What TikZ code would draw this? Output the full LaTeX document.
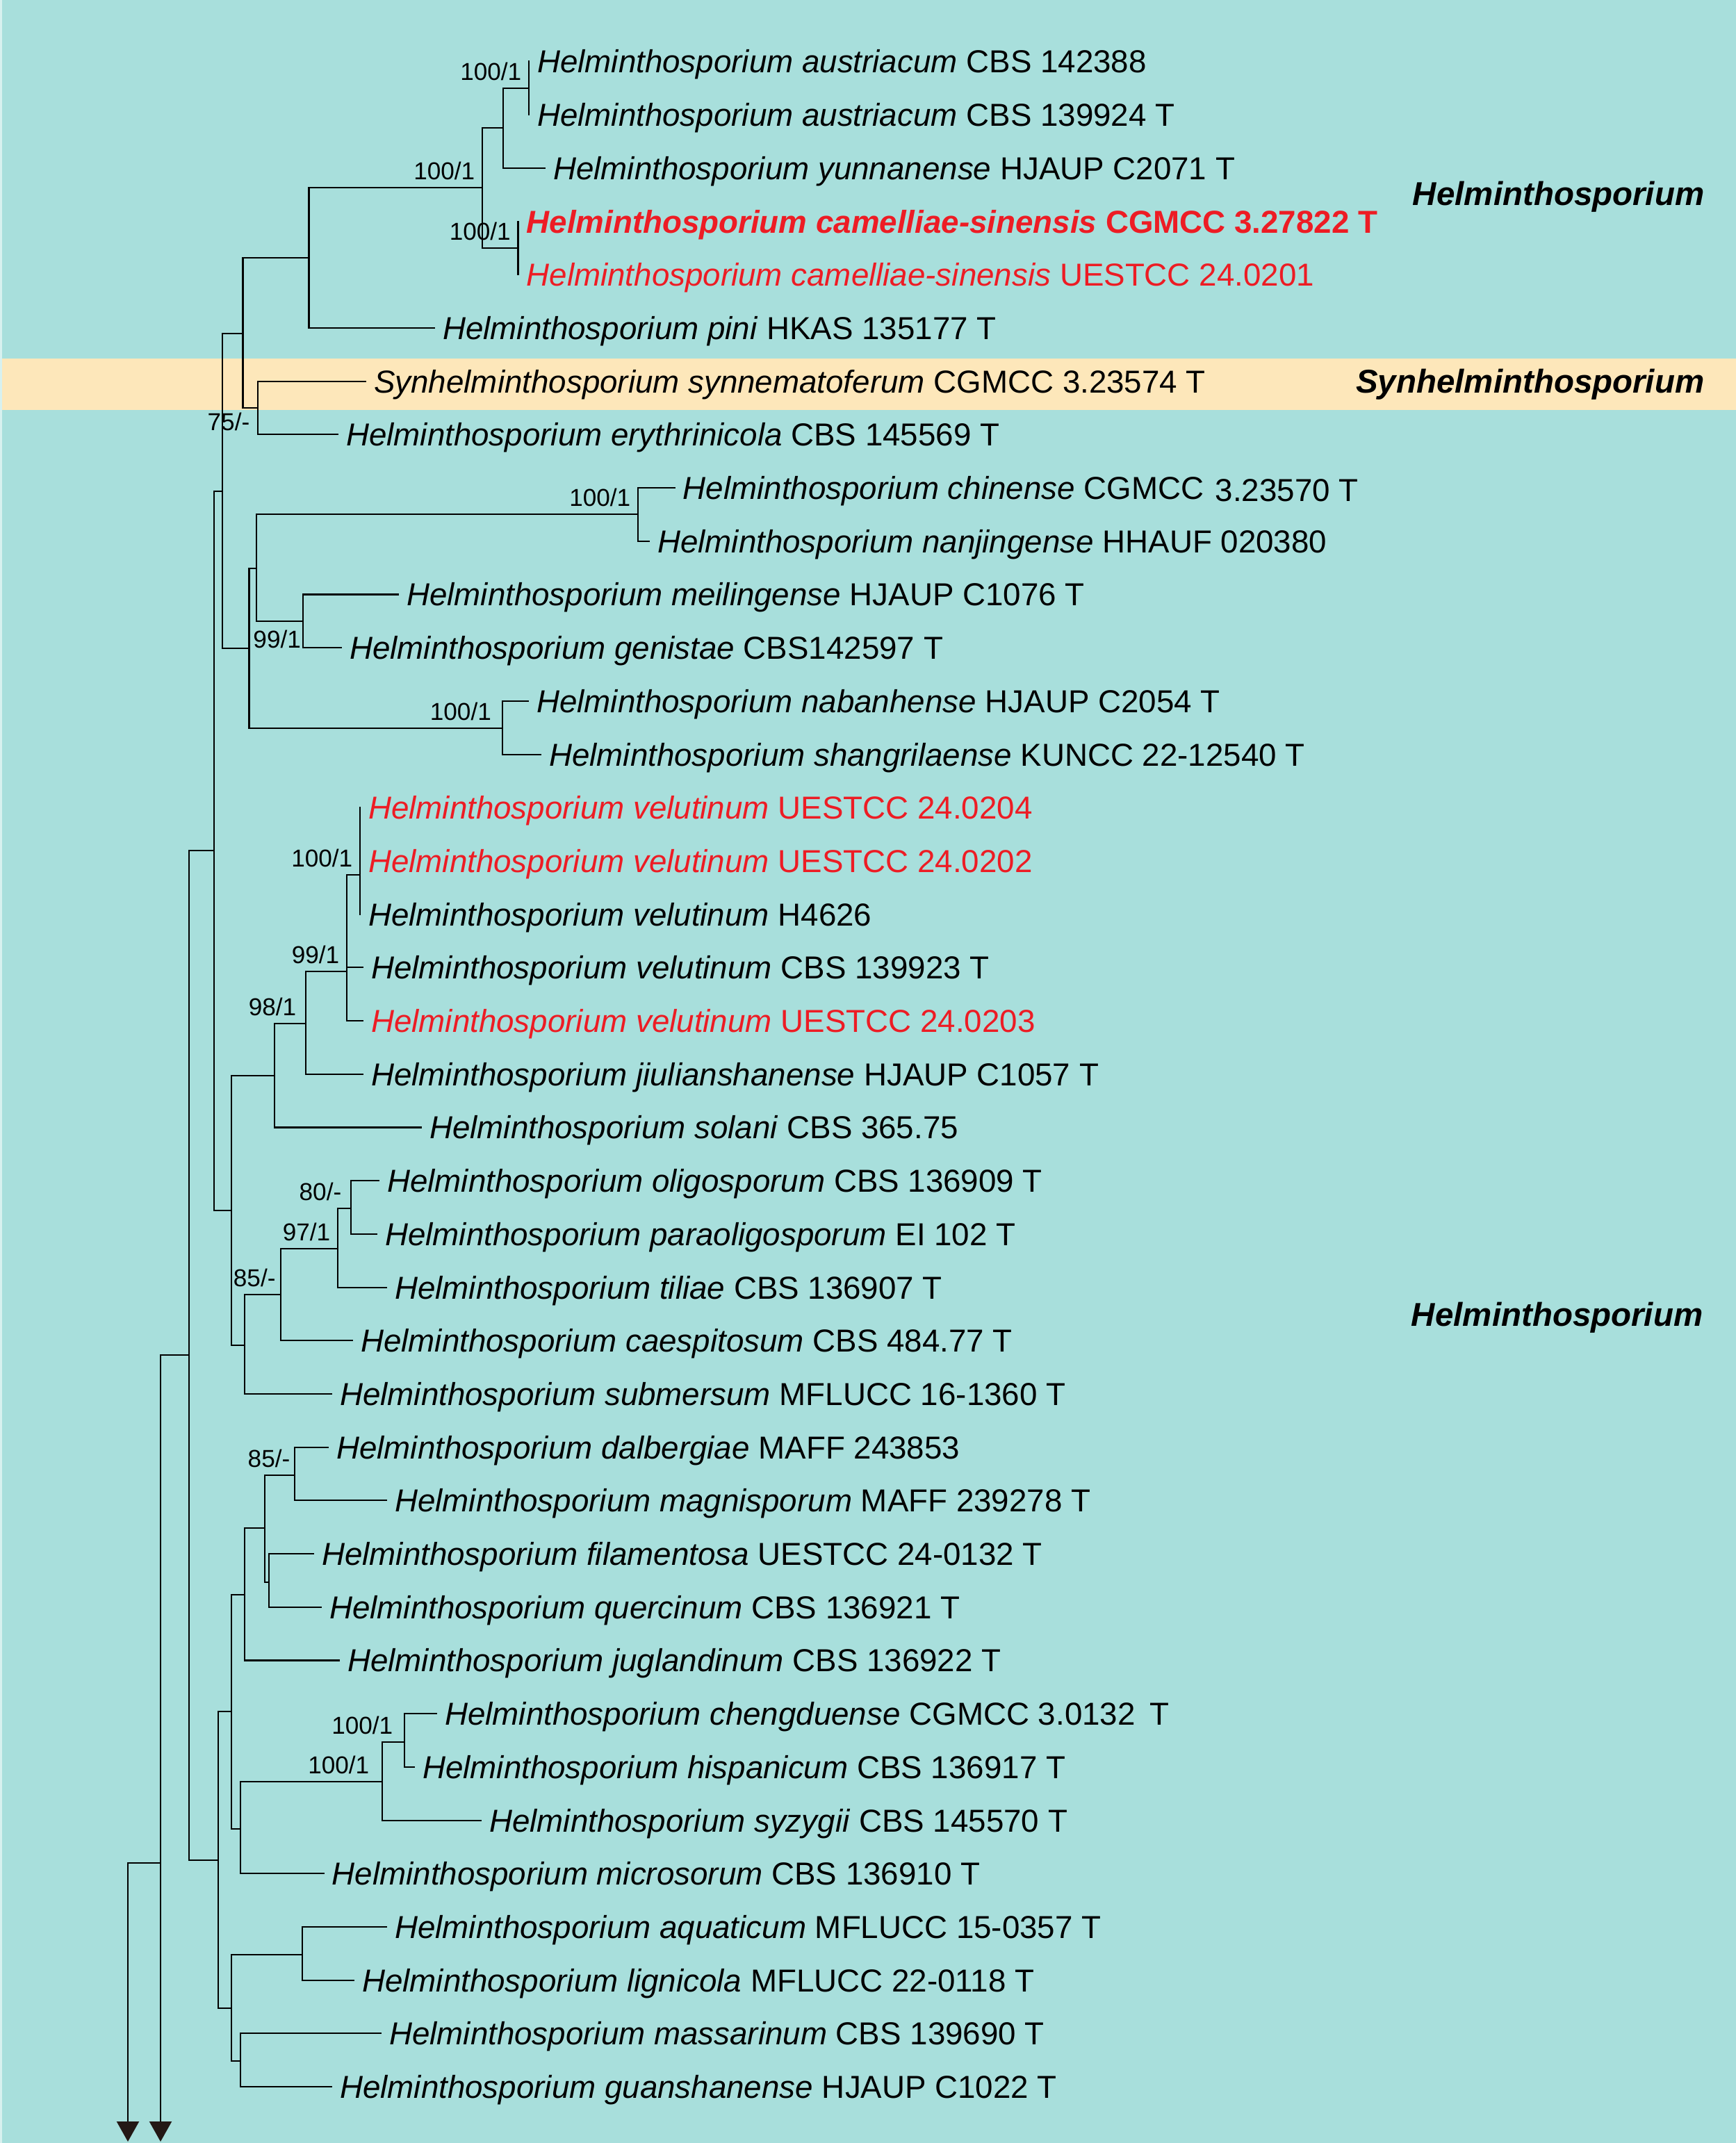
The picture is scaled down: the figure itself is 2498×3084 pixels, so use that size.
\documentclass[tikz,border=0pt]{standalone}
\usepackage{fontspec}
\setmainfont{Liberation Sans}
\usetikzlibrary{arrows.meta}
\definecolor{bgteal}{RGB}{168,223,220}
\definecolor{bandorange}{RGB}{253,231,186}
\definecolor{hred}{RGB}{237,28,36}
\definecolor{arrowdark}{RGB}{35,24,21}
\newcommand\rowy[1]{88.5+76.7*#1}
\begin{document}
\begin{tikzpicture}[x=0.01cm,y=-0.01cm,
  br/.style={line width=0.6pt, black, line cap=rect},
  tiplab/.style={anchor=base west, inner sep=0pt, xshift=0.115cm, yshift=-0.164cm, font=\fontsize{13}{15}\selectfont},
  redlab/.style={tiplab, text=hred},
  sup/.style={anchor=base east, inner sep=0pt, xshift=-0.10cm, yshift=0.12cm, font=\fontsize{10}{12}\selectfont},
  clade/.style={anchor=base east, inner sep=0pt, font=\fontsize{13.5}{16}\selectfont\bfseries\itshape},
  outarrow/.style={br, line cap=butt, -{Triangle[width=0.32cm,length=0.29cm,fill=arrowdark,color=arrowdark]}}
]
\fill[bgteal] (0,0) rectangle (2498,3084);
\useasboundingbox (0,0) rectangle (2498,3084);
\fill[bandorange] (0,516) rectangle (2498,590);
\fill[white!55!bgteal] (0,0) rectangle (3,3084);

% tips
\coordinate (t0) at (761,{\rowy{0}});
\coordinate (t1) at (761,{\rowy{1}});
\coordinate (t2) at (784,{\rowy{2}});
\coordinate (t3) at (745.5,{\rowy{3}});
\coordinate (t4) at (745.5,{\rowy{4}});
\coordinate (t5) at (625,{\rowy{5}});
\coordinate (t6) at (526,{\rowy{6}});
\coordinate (t7) at (486,{\rowy{7}});
\coordinate (t8) at (970.6,{\rowy{8}});
\coordinate (t9) at (934,{\rowy{9}});
\coordinate (t10) at (573,{\rowy{10}});
\coordinate (t11) at (491,{\rowy{11}});
\coordinate (t12) at (760,{\rowy{12}});
\coordinate (t13) at (778,{\rowy{13}});
\coordinate (t14) at (518,{\rowy{14}});
\coordinate (t15) at (518,{\rowy{15}});
\coordinate (t16) at (518,{\rowy{16}});
\coordinate (t17) at (522,{\rowy{17}});
\coordinate (t18) at (522,{\rowy{18}});
\coordinate (t19) at (522,{\rowy{19}});
\coordinate (t20) at (606,{\rowy{20}});
\coordinate (t21) at (545,{\rowy{21}});
\coordinate (t22) at (542,{\rowy{22}});
\coordinate (t23) at (556,{\rowy{23}});
\coordinate (t24) at (507,{\rowy{24}});
\coordinate (t25) at (477,{\rowy{25}});
\coordinate (t26) at (472,{\rowy{26}});
\coordinate (t27) at (556,{\rowy{27}});
\coordinate (t28) at (451,{\rowy{28}});
\coordinate (t29) at (462,{\rowy{29}});
\coordinate (t30) at (488,{\rowy{30}});
\coordinate (t31) at (628,{\rowy{31}});
\coordinate (t32) at (596,{\rowy{32}});
\coordinate (t33) at (692,{\rowy{33}});
\coordinate (t34) at (465.6,{\rowy{34}});
\coordinate (t35) at (556,{\rowy{35}});
\coordinate (t36) at (509,{\rowy{36}});
\coordinate (t37) at (548,{\rowy{37}});
\coordinate (t38) at (477,{\rowy{38}});

% internal nodes
\coordinate (N761) at (761,127);
\coordinate (N724) at (724,184);
\coordinate (N745) at (745.5,357);
\coordinate (N694) at (694,270);
\coordinate (N444) at (444.5,371);
\coordinate (N371) at (371,587);
\coordinate (N349) at (349.5,480);
\coordinate (N918) at (918,740);
\coordinate (N435) at (435.6,894);
\coordinate (N368) at (368.6,818);
\coordinate (N722) at (722.6,1048);
\coordinate (N358) at (358.5,933);
\coordinate (N320) at (320,707);
\coordinate (N518) at (518,1259);
\coordinate (N499) at (499,1398);
\coordinate (N440) at (440,1473);
\coordinate (N395) at (395.4,1548);
\coordinate (N505) at (505,1739);
\coordinate (N486) at (486,1797);
\coordinate (N403) at (403.7,1863);
\coordinate (N352a) at (352,1936);
\coordinate (N333a) at (333,1742);
\coordinate (N308) at (308,1224);
\coordinate (N424) at (424,2123);
\coordinate (N387) at (387,2277);
\coordinate (N381) at (381,2199);
\coordinate (N352b) at (352,2295);
\coordinate (N582) at (582,2507);
\coordinate (N550) at (550,2564);
\coordinate (N346a) at (346,2632);
\coordinate (N333b) at (333,2463);
\coordinate (N435b) at (435,2813);
\coordinate (N346b) at (346,2966);
\coordinate (N333c) at (333,2890);
\coordinate (N314) at (314,2677);
\coordinate (N272) at (272,1950);
\coordinate (N231) at (231,2681);
\coordinate (N184) at (184,2681);
\coordinate (E184) at (184,3082);
\coordinate (E231) at (231,3082);

% branches
\draw[br] (N761) |- (t0); \draw[br] (N761) |- (t1);
\draw[br] (N724) |- (N761); \draw[br] (N724) |- (t2);
\draw[br] (N745) |- (t3); \draw[br] (N745) |- (t4);
\draw[br] (N694) |- (N724); \draw[br] (N694) |- (N745);
\draw[br] (N444) |- (N694); \draw[br] (N444) |- (t5);
\draw[br] (N371) |- (t6); \draw[br] (N371) |- (t7);
\draw[br] (N349) |- (N444); \draw[br] (N349) |- (N371);
\draw[br] (N918) |- (t8); \draw[br] (N918) |- (t9);
\draw[br] (N435) |- (t10); \draw[br] (N435) |- (t11);
\draw[br] (N368) |- (N918); \draw[br] (N368) |- (N435);
\draw[br] (N722) |- (t12); \draw[br] (N722) |- (t13);
\draw[br] (N358) |- (N368); \draw[br] (N358) |- (N722);
\draw[br] (N320) |- (N349); \draw[br] (N320) |- (N358);
\draw[br] (N518) |- (t14); \draw[br] (N518) |- (t15); \draw[br] (N518) |- (t16);
\draw[br] (N499) |- (N518); \draw[br] (N499) |- (t17); \draw[br] (N499) |- (t18);
\draw[br] (N440) |- (N499); \draw[br] (N440) |- (t19);
\draw[br] (N395) |- (N440); \draw[br] (N395) |- (t20);
\draw[br] (N505) |- (t21); \draw[br] (N505) |- (t22);
\draw[br] (N486) |- (N505); \draw[br] (N486) |- (t23);
\draw[br] (N403) |- (N486); \draw[br] (N403) |- (t24);
\draw[br] (N352a) |- (N403); \draw[br] (N352a) |- (t25);
\draw[br] (N333a) |- (N395); \draw[br] (N333a) |- (N352a);
\draw[br] (N308) |- (N320); \draw[br] (N308) |- (N333a);
\draw[br] (N424) |- (t26); \draw[br] (N424) |- (t27);
\draw[br] (N387) |- (t28); \draw[br] (N387) |- (t29);
\draw[br] (N381) |- (N424); \draw[br] (N381) |- (N387);
\draw[br] (N352b) |- (N381); \draw[br] (N352b) |- (t30);
\draw[br] (N582) |- (t31); \draw[br] (N582) |- (t32);
\draw[br] (N550) |- (N582); \draw[br] (N550) |- (t33);
\draw[br] (N346a) |- (N550); \draw[br] (N346a) |- (t34);
\draw[br] (N333b) |- (N352b); \draw[br] (N333b) |- (N346a);
\draw[br] (N435b) |- (t35); \draw[br] (N435b) |- (t36);
\draw[br] (N346b) |- (t37); \draw[br] (N346b) |- (t38);
\draw[br] (N333c) |- (N435b); \draw[br] (N333c) |- (N346b);
\draw[br] (N314) |- (N333b); \draw[br] (N314) |- (N333c);
\draw[br] (N272) |- (N308); \draw[br] (N272) |- (N314);
\draw[br] (N231) |- (N272);
\draw[br] (N184) -- (N231);
\draw[outarrow] (N231) -- (E231);
\draw[outarrow] (N184) -- (E184);

% support values
\node[sup] (s1) at (N761) {100/1};
\node[sup] (s2) at (N694) {100/1};
\node[sup] (s3) at (N745) {100/1};
\node[sup, xshift=-0.01cm, yshift=-0.445cm] (s4) at (N371) {75/-};
\node[sup] (s5) at (N918) {100/1};
\node[sup, xshift=0.08cm, yshift=-0.505cm] (s6) at (N435) {99/1};
\node[sup, xshift=-0.05cm] (s7) at (N722) {100/1};
\node[sup] (s8) at (N518) {100/1};
\node[sup] (s9) at (N499) {99/1};
\node[sup, xshift=-0.03cm] (s10) at (N440) {98/1};
\node[sup, xshift=-0.03cm] (s11) at (N505) {80/-};
\node[sup] (s12) at (N486) {97/1};
\node[sup, xshift=0.035cm] (s13) at (N403) {85/-};
\node[sup, xshift=0.04cm] (s14) at (N424) {85/-};
\node[sup, xshift=-0.06cm] (s15) at (N582) {100/1};
\node[sup, xshift=-0.08cm] (s16) at (N550) {100/1};

% tip labels
\node[tiplab] (l0) at (t0) {\textit{Helminthosporium austriacum} CBS 142388};
\node[tiplab] (l1) at (t1) {\textit{Helminthosporium austriacum} CBS 139924 T};
\node[tiplab] (l2) at (t2) {\textit{Helminthosporium yunnanense} HJAUP C2071 T};
\node[redlab] (l3) at (t3) {\bfseries\textit{Helminthosporium camelliae-sinensis} CGMCC 3.27822 T};
\node[redlab] (l4) at (t4) {\textit{Helminthosporium camelliae-sinensis} UESTCC 24.0201};
\node[tiplab] (l5) at (t5) {\textit{Helminthosporium pini} HKAS 135177 T};
\node[tiplab] (l6) at (t6) {\textit{Synhelminthosporium synnematoferum} CGMCC 3.23574 T};
\node[tiplab] (l7) at (t7) {\textit{Helminthosporium erythrinicola} CBS 145569 T};
\node[tiplab] (l8) at (t8) {\textit{Helminthosporium chinense} CGMCC\hspace{0.36em}\raisebox{-0.03cm}{3.23570 T}};
\node[tiplab] (l9) at (t9) {\textit{Helminthosporium nanjingense} HHAUF 020380};
\node[tiplab] (l10) at (t10) {\textit{Helminthosporium meilingense} HJAUP C1076 T};
\node[tiplab] (l11) at (t11) {\textit{Helminthosporium genistae} CBS142597 T};
\node[tiplab] (l12) at (t12) {\textit{Helminthosporium nabanhense} HJAUP C2054 T};
\node[tiplab] (l13) at (t13) {\textit{Helminthosporium shangrilaense} KUNCC 22-12540 T};
\node[redlab] (l14) at (t14) {\textit{Helminthosporium velutinum} UESTCC 24.0204};
\node[redlab] (l15) at (t15) {\textit{Helminthosporium velutinum} UESTCC 24.0202};
\node[tiplab] (l16) at (t16) {\textit{Helminthosporium velutinum} H4626};
\node[tiplab] (l17) at (t17) {\textit{Helminthosporium velutinum} CBS 139923 T};
\node[redlab] (l18) at (t18) {\textit{Helminthosporium velutinum} UESTCC 24.0203};
\node[tiplab] (l19) at (t19) {\textit{Helminthosporium jiulianshanense} HJAUP C1057 T};
\node[tiplab] (l20) at (t20) {\textit{Helminthosporium solani} CBS 365.75};
\node[tiplab] (l21) at (t21) {\textit{Helminthosporium oligosporum} CBS 136909 T};
\node[tiplab] (l22) at (t22) {\textit{Helminthosporium paraoligosporum} EI 102 T};
\node[tiplab] (l23) at (t23) {\textit{Helminthosporium tiliae} CBS 136907 T};
\node[tiplab] (l24) at (t24) {\textit{Helminthosporium caespitosum} CBS 484.77 T};
\node[tiplab] (l25) at (t25) {\textit{Helminthosporium submersum} MFLUCC 16-1360 T};
\node[tiplab] (l26) at (t26) {\textit{Helminthosporium dalbergiae} MAFF 243853};
\node[tiplab] (l27) at (t27) {\textit{Helminthosporium magnisporum} MAFF 239278 T};
\node[tiplab] (l28) at (t28) {\textit{Helminthosporium filamentosa} UESTCC 24-0132 T};
\node[tiplab] (l29) at (t29) {\textit{Helminthosporium quercinum} CBS 136921 T};
\node[tiplab] (l30) at (t30) {\textit{Helminthosporium juglandinum} CBS 136922 T};
\node[tiplab] (l31) at (t31) {\textit{Helminthosporium chengduense} CGMCC 3.0132\hspace{0.45em}T};
\node[tiplab] (l32) at (t32) {\textit{Helminthosporium hispanicum} CBS 136917 T};
\node[tiplab] (l33) at (t33) {\textit{Helminthosporium syzygii} CBS 145570 T};
\node[tiplab] (l34) at (t34) {\textit{Helminthosporium microsorum} CBS 136910 T};
\node[tiplab] (l35) at (t35) {\textit{Helminthosporium aquaticum} MFLUCC 15-0357 T};
\node[tiplab] (l36) at (t36) {\textit{Helminthosporium lignicola} MFLUCC 22-0118 T};
\node[tiplab] (l37) at (t37) {\textit{Helminthosporium massarinum} CBS 139690 T};
\node[tiplab] (l38) at (t38) {\textit{Helminthosporium guanshanense} HJAUP C1022 T};

% clade labels
\node[clade] (c1) at (2453,295) {Helminthosporium};
\node[clade] (c2) at (2453,565) {Synhelminthosporium};
\node[clade] (c3) at (2451,1908) {Helminthosporium};
\end{tikzpicture}
\end{document}
